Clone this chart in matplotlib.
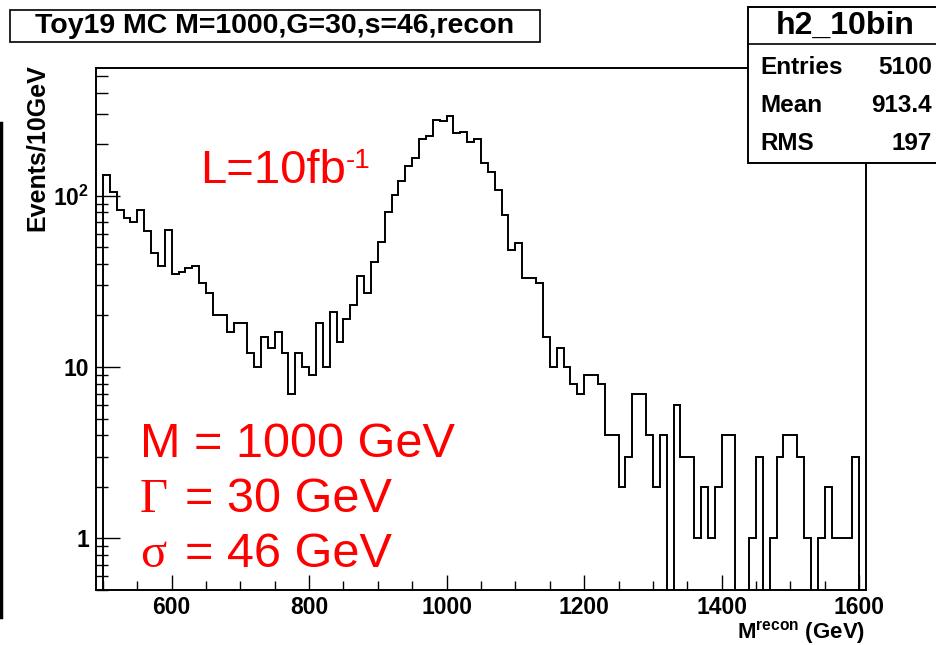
import numpy as np
import matplotlib
matplotlib.use('Agg')
from matplotlib import pyplot as plt
from matplotlib.patches import Rectangle
from matplotlib.lines import Line2D
from matplotlib.ticker import FixedLocator, LogLocator, MultipleLocator, NullFormatter

# 10 GeV bins, 500 -> 1600 GeV
bin_edges = np.arange(500, 1610, 10)
counts = np.array([
    132, 105, 82, 74, 70, 83, 62, 46, 39, 63,      # 500
    35, 36, 38, 39, 31, 27, 20, 20, 16, 18,        # 600
    18, 12, 10, 15, 13, 16, 12, 7, 12, 10,         # 700
    9, 18, 10, 21, 14, 19, 23, 34, 27, 41,         # 800
    54, 80, 101, 121, 150, 165, 214, 224, 277, 273,  # 900
    293, 233, 236, 207, 214, 155, 138, 108, 77, 48,  # 1000
    53, 33, 33, 31, 15, 10, 13, 10, 8, 7,          # 1100
    9, 9, 8, 4, 4, 2, 3, 7, 7, 4,                  # 1200
    2, 4, 0, 6, 3, 3, 1, 2, 1, 2,                  # 1300
    4, 4, 0, 0, 1, 3, 0, 1, 3, 4,                  # 1400
    4, 3, 1, 0, 1, 2, 1, 1, 1, 3,                  # 1500
])
x_ticks = [600, 800, 1000, 1200, 1400, 1600]
y_ticks = [1, 10, 100]
y_tick_labels = ['1', '10', r'$\mathbf{10^{2}}$']
stat_names = ['Entries', 'Mean', 'RMS']
stat_values = ['5100', '913.4', '197']

W, H = 937, 645


def fx(px):
    return px / W


def fy(py):
    return 1 - py / H


plt.rcParams['font.family'] = 'Liberation Sans'
plt.rcParams['mathtext.fontset'] = 'custom'
plt.rcParams['mathtext.rm'] = 'Liberation Sans'
plt.rcParams['mathtext.bf'] = 'Liberation Sans:bold'

fig = plt.figure(figsize=(W / 100, H / 100), dpi=100)
ax = fig.add_axes([fx(96), fy(590), fx(866) - fx(96), fy(68) - fy(590)])

# empty bins drop to the bottom of the frame like ROOT does
floor = 1e-3
ax.stairs(np.where(counts > 0, counts, floor), bin_edges, baseline=floor,
          color='black', lw=1.4)
ax.set_yscale('log')
ax.set_xlim(490, 1610)
ax.set_ylim(0.5, 556)

for s in ax.spines.values():
    s.set_linewidth(1.4)

ax.xaxis.set_major_locator(FixedLocator(x_ticks))
ax.xaxis.set_minor_locator(MultipleLocator(50))
ax.set_xticklabels([str(t) for t in x_ticks], fontweight='bold', fontsize=16.5)
ax.yaxis.set_major_locator(FixedLocator(y_ticks))
ax.yaxis.set_minor_locator(LogLocator(base=10, subs=np.arange(2, 10)))
ax.yaxis.set_minor_formatter(NullFormatter())
ax.set_yticklabels(y_tick_labels, fontweight='bold', fontsize=16.5)
ax.tick_params(axis='x', which='major', direction='in', length=11, width=1, pad=4)
ax.tick_params(axis='x', which='minor', direction='in', length=6.5, width=1)
ax.tick_params(axis='y', which='major', direction='in', length=17, width=1, pad=5)
ax.tick_params(axis='y', which='minor', direction='in', length=8.5, width=1)

# axis titles (ROOT style: at the far end of each axis)
fig.text(fx(37), fy(64), 'Events/10GeV', rotation=90, ha='center', va='top',
         fontsize=18, fontweight='bold')
fig.text(fx(865), fy(639), r'M$^{\mathbf{recon}}$ (GeV)', ha='right', va='baseline',
         fontsize=16, fontweight='bold')

# red annotations
red = '#ff0000'
fig.text(fx(200), fy(183), 'L=10fb', color=red, fontsize=34, va='baseline')
fig.text(fx(346), fy(168), '-1', color=red, fontsize=20, va='baseline')
fig.text(fx(140), fy(457), 'M = 1000 GeV', color=red, fontsize=35, va='baseline')
fig.text(fx(140), fy(512), '\u0393', color=red, fontsize=35, va='baseline',
         family='Liberation Serif')
fig.text(fx(185), fy(512), '= 30 GeV', color=red, fontsize=35, va='baseline')
fig.text(fx(140), fy(567), '\u03c3', color=red, fontsize=35, va='baseline',
         family='Liberation Serif')
fig.text(fx(185), fy(567), '= 46 GeV', color=red, fontsize=35, va='baseline')

# title box
fig.add_artist(Rectangle((fx(10), fy(42)), fx(540) - fx(10), fy(10) - fy(42),
                         transform=fig.transFigure, facecolor='white',
                         edgecolor='black', lw=1.2))
fig.text(fx(275), fy(26), 'Toy19 MC M=1000,G=30,s=46,recon', ha='center', va='center',
         fontsize=20.5, fontweight='bold')

# stats box
fig.add_artist(Rectangle((fx(748), fy(163)), fx(950) - fx(748), fy(7) - fy(163),
                         transform=fig.transFigure, facecolor='white',
                         edgecolor='black', lw=1.4))
fig.add_artist(Line2D([fx(748), fx(950)], [fy(44), fy(44)],
                      transform=fig.transFigure, color='black', lw=1.2))
fig.text(fx(845), fy(26), 'h2_10bin', ha='center', va='center', fontsize=23,
         fontweight='bold')
for i, (name, val) in enumerate(zip(stat_names, stat_values)):
    y = fy(67 + 38 * i)
    fig.text(fx(760), y, name, ha='left', va='center', fontsize=17.5, fontweight='bold')
    fig.text(fx(932), y, val, ha='right', va='center', fontsize=17.5, fontweight='bold')

# black bar at the left edge of the screenshot
fig.add_artist(Line2D([fx(1.5), fx(1.5)], [fy(123), fy(617)],
                      transform=fig.transFigure, color='black', lw=2.5))

fig.savefig('out.png', dpi=100)
